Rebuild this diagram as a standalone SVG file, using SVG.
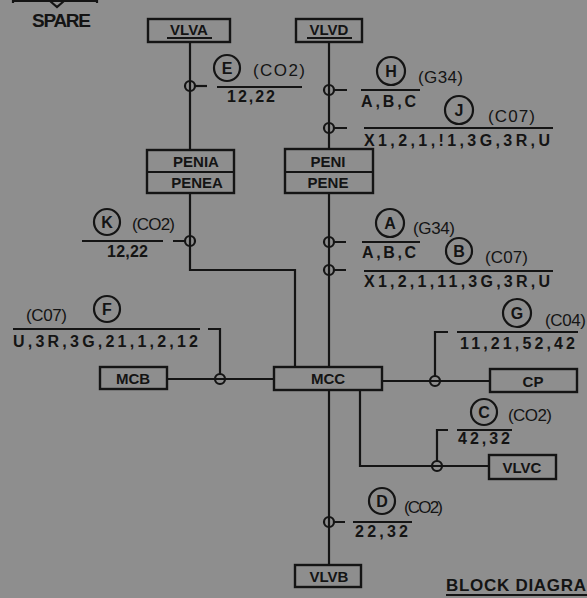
<svg xmlns="http://www.w3.org/2000/svg" width="587" height="598" viewBox="0 0 587 598">
<style>
.ln{stroke:#141414;stroke-width:2.2;fill:none}
.bx{stroke:#141414;stroke-width:2.4;fill:none}
.jc{stroke:#141414;stroke-width:2.2;fill:none}
.cl{stroke:#141414;stroke-width:2.2;fill:none}
.t{font-family:"Liberation Sans","DejaVu Sans",sans-serif;fill:#141414}
.bt{font-size:15px;font-weight:bold;text-anchor:middle}
.lb{font-size:16px;font-weight:bold}
.pr{font-size:17px}
.cc{font-size:16px;font-weight:bold;text-anchor:middle}
</style>
<rect width="587" height="598" fill="#8e8e8e"/>
<g id="spare">
<path class="ln" d="M13,3 V1 H97 V3 M50,1 L57,7 L64,1"/>
<text class="t" x="32" y="27" font-size="19" font-weight="bold" textLength="59">SPARE</text>
</g>
<g id="connectors">
<path class="ln" d="M190,42 V150"/>
<circle class="jc" cx="190" cy="86" r="5"/>
<path class="ln" d="M195,86 H207"/>
<path class="ln" d="M217,87 H302"/>
<path class="ln" d="M329,42 V149"/>
<circle class="jc" cx="329" cy="90" r="5"/>
<circle class="jc" cx="329" cy="128" r="5"/>
<path class="ln" d="M334,90 H347 M334,128 H347"/>
<path class="ln" d="M361,90 H420 M364,128 H553"/>
<path class="ln" d="M190,193 V270 H295 V367"/>
<circle class="jc" cx="190" cy="241" r="5"/>
<path class="ln" d="M185,241 H173 M82,241 H163"/>
<path class="ln" d="M329,193 V367"/>
<circle class="jc" cx="329" cy="242" r="5"/>
<circle class="jc" cx="329" cy="270" r="5"/>
<path class="ln" d="M334,242 H346 M334,270 H346"/>
<path class="ln" d="M362,242 H420 M364,271 H553"/>
<path class="ln" d="M167,379 H274"/>
<circle class="jc" cx="220" cy="379" r="5"/>
<path class="ln" d="M220,374 V329 H208 M13,329 H200"/>
<path class="ln" d="M382,381 H490"/>
<circle class="jc" cx="435" cy="381" r="5"/>
<path class="ln" d="M435,376 V332 H448 M457,332 H578"/>
<path class="ln" d="M360,390 V466 H489"/>
<circle class="jc" cx="437" cy="466" r="5"/>
<path class="ln" d="M437,461 V430 H448 M457,430 H512"/>
<path class="ln" d="M329,390 V565"/>
<circle class="jc" cx="329" cy="522" r="5"/>
<path class="ln" d="M334,522 H345 M353,522 H412"/>
</g>
<g id="VLVA">
<rect class="bx" x="148" y="19" width="82" height="23"/>
<text class="t bt" x="189" y="35">VLVA</text>
<path class="ln" d="M167,38 H212"/>
</g>
<g id="VLVD">
<rect class="bx" x="296" y="19" width="66" height="23"/>
<text class="t bt" x="329" y="35">VLVD</text>
<path class="ln" d="M307,38 H352"/>
</g>
<g id="PENIA">
<rect class="bx" x="147" y="150" width="87" height="43"/>
<path class="ln" d="M147,172 H234"/>
<text class="t bt" x="196" y="167">PENIA</text>
<text class="t bt" x="197" y="188">PENEA</text>
</g>
<g id="PENI">
<rect class="bx" x="285" y="149" width="88" height="44"/>
<path class="ln" d="M285,172 H373"/>
<text class="t bt" x="328" y="167">PENI</text>
<text class="t bt" x="328" y="188">PENE</text>
</g>
<g id="MCB">
<rect class="bx" x="100" y="367" width="67" height="22"/>
<text class="t bt" x="133" y="384">MCB</text>
</g>
<g id="MCC">
<rect class="bx" x="274" y="367" width="108" height="23"/>
<text class="t bt" x="328" y="384">MCC</text>
</g>
<g id="CP">
<rect class="bx" x="490" y="369" width="87" height="23"/>
<text class="t bt" x="533" y="387">CP</text>
</g>
<g id="VLVC">
<rect class="bx" x="489" y="455" width="67" height="24"/>
<text class="t bt" x="522" y="473">VLVC</text>
</g>
<g id="VLVB">
<rect class="bx" x="295" y="565" width="66" height="22"/>
<text class="t bt" x="329" y="582">VLVB</text>
</g>
<g id="label-E">
<circle class="cl" cx="227" cy="68" r="13"/>
<text class="t cc" x="227" y="74">E</text>
<text class="t pr" x="253" y="76" textLength="52">(CO2)</text>
<text class="t lb" x="227" y="102" textLength="48">12,22</text>
</g>
<g id="label-H">
<circle class="cl" cx="391" cy="71" r="14"/>
<text class="t cc" x="391" y="77">H</text>
<text class="t pr" x="418" y="83" textLength="45">(G34)</text>
<text class="t lb" x="361" y="107" textLength="55">A,B,C</text>
</g>
<g id="label-J">
<circle class="cl" cx="459" cy="110" r="14"/>
<text class="t cc" x="459" y="116">J</text>
<text class="t pr" x="488" y="122" textLength="47">(C07)</text>
<text class="t lb" x="364" y="146" textLength="186">X1,2,1,!1,3G,3R,U</text>
</g>
<g id="label-K">
<circle class="cl" cx="107" cy="222" r="13"/>
<text class="t cc" x="107" y="228">K</text>
<text class="t pr" x="132" y="230" textLength="43">(CO2)</text>
<text class="t lb" x="107" y="257" textLength="41">12,22</text>
</g>
<g id="label-A">
<circle class="cl" cx="390" cy="223" r="14"/>
<text class="t cc" x="390" y="229">A</text>
<text class="t pr" x="413" y="234" textLength="42">(G34)</text>
<text class="t lb" x="362" y="258" textLength="54">A,B,C</text>
</g>
<g id="label-B">
<circle class="cl" cx="459" cy="251" r="13"/>
<text class="t cc" x="459" y="257">B</text>
<text class="t pr" x="485" y="263" textLength="43">(C07)</text>
<text class="t lb" x="364" y="287" textLength="186">X1,2,1,11,3G,3R,U</text>
</g>
<g id="label-F">
<circle class="cl" cx="107" cy="309" r="13"/>
<text class="t cc" x="107" y="315">F</text>
<text class="t pr" x="26" y="321" textLength="41">(C07)</text>
<text class="t lb" x="13" y="347" textLength="185">U,3R,3G,21,1,2,12</text>
</g>
<g id="label-G">
<circle class="cl" cx="517" cy="313" r="14"/>
<text class="t cc" x="517" y="319">G</text>
<text class="t pr" x="545" y="326" textLength="41">(C04)</text>
<text class="t lb" x="460" y="349" textLength="115">11,21,52,42</text>
</g>
<g id="label-C">
<circle class="cl" cx="484" cy="412" r="13"/>
<text class="t cc" x="484" y="418">C</text>
<text class="t pr" x="508" y="421" textLength="44">(CO2)</text>
<text class="t lb" x="458" y="444" textLength="52">42,32</text>
</g>
<g id="label-D">
<circle class="cl" cx="382" cy="501" r="13"/>
<text class="t cc" x="382" y="507">D</text>
<text class="t pr" x="404" y="513" textLength="39">(CO2)</text>
<text class="t lb" x="355" y="537" textLength="53">22,32</text>
</g>
<g id="title">
<text class="t" x="446" y="591" font-size="17" font-weight="bold" textLength="140">BLOCK DIAGRA</text>
<path class="ln" d="M446,595 H587" stroke-width="3"/>
</g>
</svg>
